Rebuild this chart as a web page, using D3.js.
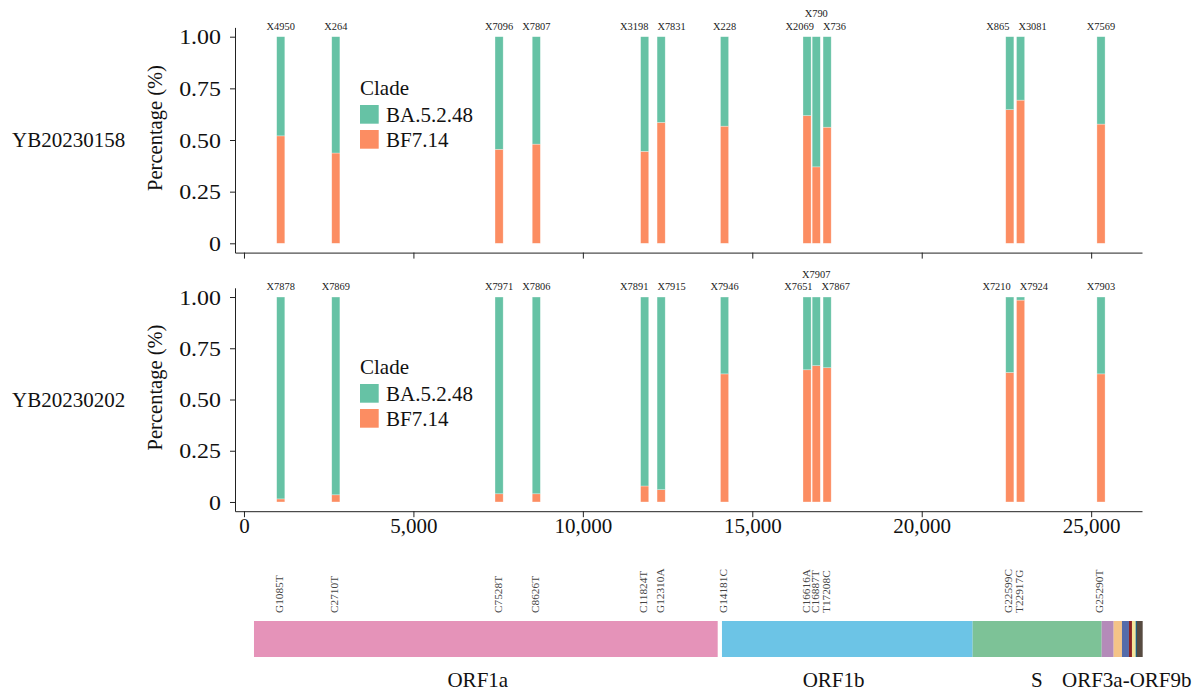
<!DOCTYPE html>
<html>
<head>
<meta charset="utf-8">
<script src="https://cdn.jsdelivr.net/npm/d3@7"></script>
<style>
  html, body { margin: 0; padding: 0; background: #fff; }
  svg { display: block; font-family: "Liberation Serif", "Times New Roman", serif; }
</style>
</head>
<body>
<svg id="chart" width="1199" height="691"></svg>
<script>
// ---------------- DATA ----------------
const positions = [1085, 2710, 7528, 8626, 11824, 12310, 14181, 16616, 16887, 17208, 22599, 22917, 25290];
const mutations = ["G1085T", "C2710T", "C7528T", "C8626T", "C11824T", "G12310A", "G14181C",
                   "C16616A", "C16887T", "T17208C", "G22599C", "T22917G", "G25290T"];
const samples = ["YB20230158", "YB20230202"];
const labelsTop = ["X4950", "X264", "X7096", "X7807", "X3198", "X7831", "X228", "X2069", "X790", "X736", "X865", "X3081", "X7569"];
const labelsBottom = ["X7878", "X7869", "X7971", "X7806", "X7891", "X7915", "X7946", "X7651", "X7907", "X7867", "X7210", "X7924", "X7903"];
// share of BF7.14 (the rest is BA.5.2.48)
const bf714Top = [0.52, 0.437, 0.455, 0.48, 0.445, 0.585, 0.567, 0.618, 0.37, 0.562, 0.647, 0.693, 0.577];
const bf714Bottom = [0.015, 0.035, 0.04, 0.04, 0.078, 0.06, 0.625, 0.645, 0.665, 0.655, 0.632, 0.985, 0.625];
const clades = ["BA.5.2.48", "BF7.14"];
const xTicks = [0, 5000, 10000, 15000, 20000, 25000];
const yTicks = [0, 0.25, 0.5, 0.75, 1];
const geneNames = ["ORF1a", "ORF1b", "S", "ORF3a", "E", "M", "ORF6", "ORF7a", "ORF7b", "ORF8-ORF9b"];
const geneStart = [295, 14105, 21503, 25310, 25664, 25909, 26115, 26204, 26313, 26352];
const geneEnd   = [13979, 21503, 25310, 25664, 25909, 26115, 26204, 26313, 26352, 26520];
const geneColors = ["#E593B9", "#6CC4E6", "#7DC297", "#B48BB9", "#F4C388", "#546BAA", "#8E2323", "#F4E79A", "#1F5E7B", "#574B41"];
const geneTexts = ["ORF1a", "ORF1b", "S", "ORF3a-ORF9b"];
const geneTextPos = [6900, 17400, 23400, 26050];

// ---------------- SETUP ----------------
const svg = d3.select("#chart");
const cladeColor = d3.scaleOrdinal().domain(clades).range(["#66C2A5", "#FC8D62"]);
const x = d3.scaleLinear().domain([-265, 26500]).range([235, 1142]);
const barW = 240;

const panels = [
  { sample: samples[0], labels: labelsTop, vals: bf714Top, range: [252.6, 27.4], legendDy: 0 },
  { sample: samples[1], labels: labelsBottom, vals: bf714Bottom, range: [511.2, 287.8], legendDy: 279, xLabels: true }
];

panels.forEach((p, pi) => {
  const y = d3.scaleLinear().domain([-0.045, 1.045]).range(p.range);
  const g = svg.append("g");

  // stacked bars
  const rows = positions.map((pos, i) => ({ pos, "BF7.14": p.vals[i], "BA.5.2.48": 1 - p.vals[i] }));
  const stack = d3.stack().keys(["BF7.14", "BA.5.2.48"])(rows);
  g.selectAll("g.layer").data(stack).join("g")
    .attr("fill", d => cladeColor(d.key))
    .selectAll("rect").data(d => d).join("rect")
    .attr("x", d => x(d.data.pos - barW / 2))
    .attr("width", d => x(barW) - x(0))
    .attr("y", d => y(d[1]))
    .attr("height", d => y(d[0]) - y(d[1]))
    .attr("stroke", "#fff").attr("stroke-opacity", 0.5).attr("stroke-width", 0.6);

  // y axis
  const ya = g.append("g").attr("transform", "translate(235,0)")
    .call(d3.axisLeft(y).tickValues(yTicks).tickSize(5).tickSizeOuter(0)
      .tickFormat(d => d === 0 ? "0" : d3.format(".2f")(d)));
  ya.select(".domain").attr("stroke", "#222");
  ya.selectAll(".tick line").attr("stroke", "#222");
  ya.selectAll(".tick text").attr("font-size", 21).attr("fill", "#111")
    .attr("font-family", "Liberation Serif").attr("x", 0).attr("dy", "0.34em")
    .attr("transform", "translate(-14,0) scale(1.14,1)");

  // x axis
  const xa = g.append("g").attr("transform", `translate(0,${p.range[0]})`)
    .call(d3.axisBottom(x).tickValues(xTicks).tickSize(6).tickSizeOuter(0)
      .tickFormat(p.xLabels ? d3.format(",") : () => ""));
  xa.select(".domain").attr("stroke", "#222");
  xa.selectAll(".tick line").attr("stroke", "#222");
  xa.selectAll(".tick text").attr("font-size", 21).attr("fill", "#111")
    .attr("font-family", "Liberation Serif").attr("y", 7).attr("dy", "0.71em");

  // axis title
  const ymid = (y(0) + y(1)) / 2;
  g.append("text").attr("transform", `translate(162,${ymid - 12}) rotate(-90)`)
    .attr("text-anchor", "middle").attr("font-size", 20.5).attr("fill", "#111")
    .text("Percentage (%)");

  // sample name
  g.append("text").attr("x", 12).attr("y", ymid + 7).attr("font-size", 21).attr("fill", "#111")
    .text(p.sample);

  // legend
  const lg = g.append("g").attr("transform", `translate(360,${95 + p.legendDy})`);
  lg.append("text").attr("x", 0).attr("y", 0).attr("font-size", 21).attr("fill", "#111").text("Clade");
  clades.forEach((c, i) => {
    lg.append("rect").attr("x", 0).attr("y", 10 + i * 25).attr("width", 18.7).attr("height", 18.7)
      .attr("fill", cladeColor(c));
    lg.append("text").attr("x", 26).attr("y", 26.5 + i * 25).attr("font-size", 21).attr("fill", "#111").text(c);
  });

  // bar labels with simple repel
  const baseY = y(1) - 7;
  const lab = positions.map((pos, i) => ({ pos, text: p.labels[i], cx: x(pos), tier: 0 }));
  const tmp = g.append("g");
  lab.forEach(d => {
    const t = tmp.append("text").attr("font-size", 10.4).text(d.text);
    d.w = t.node().getComputedTextLength();
  });
  tmp.remove();
  const pad = 4.5;
  const overl = (a, b) => Math.abs(a.cx - b.cx) < (a.w + b.w) / 2 + 2 * pad;
  for (let i = 1; i < lab.length - 1; i++) {
    if (overl(lab[i], lab[i - 1]) && overl(lab[i], lab[i + 1])) lab[i].tier = 1;
  }
  for (let it = 0; it < 100; it++) {
    const t0 = lab.filter(d => d.tier === 0);
    for (let i = 0; i < t0.length - 1; i++) {
      const a = t0[i], b = t0[i + 1];
      const need = (a.w + b.w) / 2 + 2 * pad;
      const gap = b.cx - a.cx;
      if (gap < need) { const s = (need - gap) / 2 * 0.5; a.cx -= s; b.cx += s; }
    }
  }
  g.selectAll("text.blab").data(lab).join("text").attr("class", "blab")
    .attr("x", d => d.cx).attr("y", d => baseY - d.tier * 12.5)
    .attr("text-anchor", "middle").attr("font-size", 10.4).attr("fill", "#222")
    .text(d => d.text);
});

// ---------------- GENOME MAP ----------------
const genes = geneNames.map((n, i) => ({ name: n, start: geneStart[i], end: geneEnd[i], color: geneColors[i] }));
svg.append("g").selectAll("rect").data(genes).join("rect")
  .attr("x", d => x(d.start)).attr("width", d => x(d.end) - x(d.start))
  .attr("y", 621).attr("height", 36)
  .attr("fill", d => d.color);

svg.append("g").selectAll("text").data(mutations).join("text")
  .attr("transform", (d, i) => `translate(${x(positions[i]) - 1.5},613) rotate(-90)`)
  .attr("dy", "0.35em").attr("font-size", 11.3).attr("fill", "#444")
  .text(d => d);

svg.append("g").selectAll("text").data(geneTexts).join("text")
  .attr("x", (d, i) => x(geneTextPos[i])).attr("y", 687)
  .attr("text-anchor", "middle").attr("font-size", 21).attr("fill", "#111")
  .text(d => d);
</script>
</body>
</html>
